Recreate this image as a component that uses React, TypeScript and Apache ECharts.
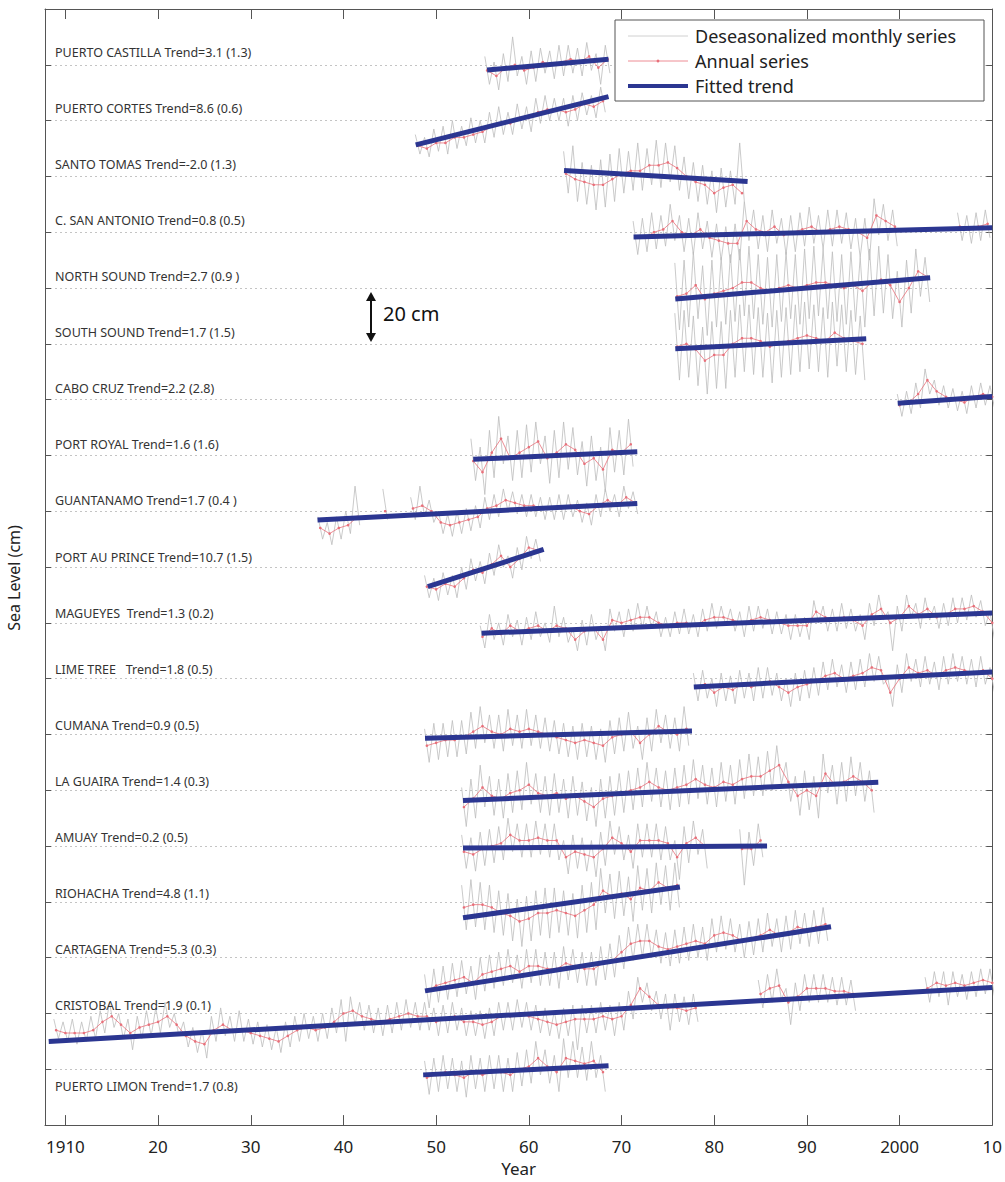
import React, { useEffect, useRef } from "react";
import * as echarts from "echarts";

// ---------------- DATA (cm, relative to each station's baseline) ----------------
const LABELS = [
  "PUERTO CASTILLA Trend=3.1 (1.3)",
  "PUERTO CORTES Trend=8.6 (0.6)",
  "SANTO TOMAS Trend=-2.0 (1.3)",
  "C. SAN ANTONIO Trend=0.8 (0.5)",
  "NORTH SOUND Trend=2.7 (0.9 )",
  "SOUTH SOUND Trend=1.7 (1.5)",
  "CABO CRUZ Trend=2.2 (2.8)",
  "PORT ROYAL Trend=1.6 (1.6)",
  "GUANTANAMO Trend=1.7 (0.4 )",
  "PORT AU PRINCE Trend=10.7 (1.5)",
  "MAGUEYES  Trend=1.3 (0.2)",
  "LIME TREE   Trend=1.8 (0.5)",
  "CUMANA Trend=0.9 (0.5)",
  "LA GUAIRA Trend=1.4 (0.3)",
  "AMUAY Trend=0.2 (0.5)",
  "RIOHACHA Trend=4.8 (1.1)",
  "CARTAGENA Trend=5.3 (0.3)",
  "CRISTOBAL Trend=1.9 (0.1)",
  "PUERTO LIMON Trend=1.7 (0.8)",
];

// first annual-value position (decimal year) for each station
const START = [1955.5, 1948, 1964, 1971.5, 1976, 1976, 2000, 1954, 1937.5, 1949, 1955, 1978, 1949, 1953, 1953, 1953, 1949, 1909, 1949];

// fitted trend endpoints [year0, cm0, year1, cm1]
const TRENDS = [
  [1955.5, -1.9, 1968.6, 2.0],
  [1947.8, -8.7, 1968.6, 8.6],
  [1963.8, 2.1, 1983.6, -1.8],
  [1971.3, -1.7, 2010, 1.6],
  [1975.8, -3.9, 2003.3, 3.7],
  [1975.8, -1.8, 1996.4, 1.8],
  [1999.8, -1.3, 2010, 1.1],
  [1954.0, -1.4, 1971.7, 1.3],
  [1937.2, -3.1, 1971.7, 2.8],
  [1949.1, -7.0, 1961.6, 6.3],
  [1954.9, -3.7, 2010, 3.5],
  [1977.8, -3.0, 2010, 2.4],
  [1948.8, -1.4, 1977.6, 1.2],
  [1952.9, -3.7, 1997.7, 2.9],
  [1952.9, -0.7, 1985.7, 0.0],
  [1952.9, -5.7, 1976.3, 5.3],
  [1948.8, -11.9, 1992.6, 11.1],
  [1908.2, -10.0, 2010, 9.3],
  [1948.6, -2.0, 1968.6, 1.3],
];

// annual series
const annualPuertoCastilla = [-2, -4, -1, 0, -2, -1, 1, 0, 1, 2, 1, 3, -1, 2];
const annualPuertoCortes = [-9, -10, -8, -8, -6, -6, -5, -4, -2, -1, -1, 1, 1, 3, 4, 4, 3, 4, 6, 5, 7];
const annualSantoTomas = [1, -1, -2, -3, -3, -1, 1, 2, 2, 4, 4, 5, 3, 0, -2, -3, -6, -4, -3, -6];
const annualSanAntonio = [-2, -2, 0, 1, 4, 0, -1, 1, -2, -3, -4, -4, 4, 1, 0, 2, -1, 0, 1, 2, 0, 1, 2, 1, 0, -2, 6, 4, 2, null, null, null, null, null, null, 2, 1, 2, 3];
const annualNorthSound = [-3, -2, 1, -4, -2, -1, 0, 2, 2, 0, -1, 0, 1, 0, 1, 2, 2, 1, 0, 1, -1, 2, 3, 1, -5, 0, 6, 4];
const annualSouthSound = [-1, 0, -2, -6, -4, -4, 0, 2, 2, 1, -1, 0, 1, 2, 3, 2, 1, 4, 2, 1, 0];
const annualCaboCruz = [-2, -1, 2, 7, 3, 1, 0, -1, 1, 2, 1];
const annualPortRoyal = [-2, -6, 1, 6, -1, 1, 3, 5, -1, 1, 4, 2, -3, -1, -5, 2, 1, 4];
const annualGuantanamo = [-6, -8, -6, -5, -2, null, null, 0, null, null, 1, 2, 0, -4, -5, -4, -3, -2, 1, 2, 4, 3, 2, 2, 1, 1, 1, 2, 0, -1, 2, 4, 2, 5, 3];
const annualPortAuPrince = [-7, -8, -6, -7, -4, -1, -2, 1, 4, 0, 3, 7, 6];
const annualMagueyes = [-5, -2, -4, -1, -3, -2, -1, -3, -1, -2, -6, -3, -2, -6, 1, 0, 1, 2, 2, 0, -1, 0, 0, -1, 1, 2, 2, 1, 0, 1, 2, 1, 0, -1, -1, -1, 4, 2, 1, 2, 1, -1, 3, 5, 0, 2, 6, 3, 5, 2, 3, 5, 5, 6, 4, 0];
const annualLimeTree = [-3, -2, -5, -3, -4, -2, -3, -2, -1, -3, -5, -3, -2, -1, 1, 2, 0, 1, 2, 4, 3, -5, 0, 4, 2, 3, 1, 3, 4, 3, 2, 3, 0];
const annualCumana = [-4, -3, -2, -2, -1, 1, 3, 1, 0, 2, 1, 2, 1, 0, -1, -2, -3, -2, -3, -4, -1, 0, 1, -3, 0, 3, 1, 0, 2];
const annualLaGuaira = [-6, -3, 1, -2, -3, -1, 0, 2, -1, -2, -1, -3, -2, -4, -6, -3, -2, -1, 0, 1, 3, 1, 0, 1, 2, 4, 2, 1, 3, 2, 4, 5, 5, 7, 9, 3, -2, 0, -2, 6, 2, 3, 5, 3, 0];
const annualAmuay = [-2, -3, -1, 0, 1, 4, 2, 2, 3, 2, 2, -4, -2, -3, -4, -1, 3, 1, -2, 2, 2, 2, 1, -4, 1, 3, 0, null, null, null, -1, -1, 2];
const annualRiohacha = [-2, -1, -1, -2, -4, -5, -7, -6, -4, -4, -3, -4, -5, -3, -1, 4, 2, 3, 1, 5, 4, 7, 5, 6];
const annualCartagena = [-12, -10, -9, -8, -7, -9, -6, -5, -4, -3, -5, -3, -3, -4, -4, -2, -3, -4, -4, -2, -1, 2, 5, 6, 6, 4, 3, 4, 5, 6, 5, 8, 9, 8, 6, 7, 8, 10, 8, 9, 11, 10, 11, 12];
const annualCristobal = [
  -6, -7, -7, -7, -6, -3, -1, -4, -7, -5, -4, -3, -1, -4, -8, -10, -11, -6, -4, -6,
  -6, -7, -8, -9, -10, -8, -6, -5, -6, -5, -3, 0, 1, -1, -2, -3, -2, -1, 0, -1,
  -1, -3, -2, -1, -3, -3, -4, -3, -1, -1, 0, -1, -2, -3, -4, -3, -2, -2, -2, -1,
  -2, -1, 3, 9, 6, 3, 2, 2, 1, 2, null, null, null, null, null, null,
  7, 9, 10, 4, 6, 9, 9, 9, 8, 8, 7, null, null, null, null, null, null, null,
  9, 11, 10, 11, 10, 11, 12, 11,
];
const annualPuertoLimon = [-3, -2, -1, -2, -3, -1, -2, -1, -1, -2, 0, 1, 4, 1, -1, 4, 3, 2, 3, -1];

// deseasonalized monthly series: (high, low) excursions per year
const grayPuertoCastilla = [3, -7, 1, -9, 4, -6, 10, -4, 3, -7, 5, -6, 6, -3, 5, -5, 7, -4, 7, -3, 6, -4, 8, -2, 4, -7, 7, -3];
const grayPuertoCortes = [-5, -12, -6, -13, -3, -11, -2, -12, 0, -10, -2, -9, 1, -8, 0, -8, 3, -6, 5, -5, 3, -5, 6, -3, 5, -4, 8, -1, 9, 0, 8, 0, 8, -2, 9, 0, 10, 2, 9, 1, 12, 3];
const graySantoTomas = [9, -6, 11, -9, 5, -10, 4, -12, 6, -11, 8, -9, 10, -6, 9, -5, 12, -5, 10, -3, 13, -4, 12, -2, 11, -5, 7, -8, 5, -9, 4, -10, 2, -13, 3, -11, 2, -10, 12, -9];
const graySanAntonio = [4, -8, 5, -7, 7, -6, 6, -5, 10, -3, 6, -7, 5, -8, 7, -6, 4, -9, 3, -10, 2, -11, 3, -10, 11, -3, 8, -6, 6, -7, 8, -4, 5, -8, 6, -7, 7, -5, 9, -4, 6, -6, 8, -5, 8, -4, 7, -6, 5, -9, 5, -10, 12, -1, 10, -3, 8, -5, null, null, null, null, null, null, null, null, null, null, null, null, 7, -3, 6, -4, 7, -3, 8, -2];
const grayNorthSound = [9, -15, 10, -14, 13, -11, 8, -17, 10, -14, 11, -13, 12, -12, 14, -10, 15, -11, 12, -13, 11, -14, 12, -12, 13, -11, 12, -13, 14, -11, 15, -10, 14, -11, 13, -12, 12, -13, 13, -12, 11, -14, 14, -10, 15, -9, 12, -11, 6, -14, 10, -9, 14, -3, 11, -5];
const graySouthSound = [11, -13, 12, -12, 10, -15, 6, -18, 8, -16, 8, -16, 12, -12, 14, -10, 14, -11, 13, -12, 11, -14, 12, -12, 13, -11, 14, -10, 15, -9, 14, -10, 13, -12, 15, -8, 14, -10, 12, -11, 10, -13];
const grayCaboCruz = [2, -6, 3, -5, 6, -3, 11, 2, 7, -2, 5, -3, 4, -4, 3, -5, 5, -3, 6, -2, 5, -3];
const grayPortRoyal = [6, -9, 3, -14, 9, -8, 14, -3, 7, -9, 9, -8, 11, -6, 12, -3, 7, -10, 9, -8, 12, -5, 10, -7, 5, -11, 7, -9, 3, -13, 10, -6, 9, -7, 13, -4];
const grayGuantanamo = [-2, -10, -4, -12, -2, -10, 0, -8, 9, -5, null, null, null, null, 8, -3, null, null, null, null, 5, -3, 9, -2, 4, -4, 0, -8, -1, -9, 0, -8, 1, -7, 2, -6, 5, -3, 6, -2, 8, 0, 7, -1, 6, -2, 6, -2, 5, -3, 5, -3, 6, -3, 6, -2, 4, -4, 3, -5, 6, -2, 8, 0, 6, -2, 9, 1, 7, -1];
const grayPortAuPrince = [-3, -11, -4, -12, -2, -10, -3, -11, 0, -8, 3, -5, 2, -6, 5, -3, 8, 0, 4, -4, 7, -1, 11, 3, 10, 2];
const grayMagueyes = [-1, -9, 3, -6, 0, -8, 3, -5, 1, -8, 2, -6, 4, -5, 0, -7, 6, -5, 2, -7, -2, -10, 1, -8, 3, -6, -1, -10, 5, -3, 4, -5, 5, -3, 7, -2, 6, -2, 4, -5, 2, -5, 4, -4, 5, -4, 3, -5, 5, -3, 7, -2, 6, -1, 5, -3, 4, -5, 6, -3, 6, -2, 5, -4, 4, -4, 3, -6, 3, -5, 2, -6, 8, 0, 6, -3, 5, -3, 7, -2, 5, -3, 3, -6, 7, -1, 10, 1, 4, -10, 6, -3, 10, 2, 7, -2, 9, 1, 6, -2, 7, -1, 9, 0, 9, 1, 10, 2, 8, -1, 4, -6];
const grayLimeTree = [2, -8, 3, -7, 0, -10, 2, -8, 1, -9, 3, -7, 2, -8, 4, -7, 4, -6, 2, -8, 0, -10, 2, -8, 3, -7, 4, -6, 6, -4, 7, -3, 5, -5, 6, -4, 7, -3, 9, -1, 8, -2, 0, -10, 5, -5, 9, -1, 7, -3, 8, -2, 6, -4, 8, -2, 9, -1, 8, -2, 7, -3, 8, -2, 4, -5];
const grayCumana = [2, -10, 4, -9, 4, -8, 5, -8, 5, -7, 8, -5, 10, -3, 7, -5, 7, -6, 9, -4, 7, -5, 9, -4, 7, -5, 6, -6, 5, -7, 4, -8, 3, -9, 4, -8, 3, -9, 2, -10, 5, -7, 6, -6, 8, -5, 3, -9, 6, -6, 9, -3, 7, -5, 6, -6, 10, -4];
const grayLaGuaira = [1, -13, 4, -10, 9, -6, 5, -9, 4, -10, 6, -8, 7, -7, 10, -5, 6, -8, 5, -9, 6, -8, 4, -10, 5, -9, 3, -11, 1, -13, 4, -10, 5, -9, 6, -8, 7, -7, 8, -6, 10, -4, 8, -6, 7, -7, 8, -6, 9, -5, 11, -3, 9, -5, 8, -6, 10, -4, 9, -5, 11, -3, 13, -2, 12, -2, 14, 0, 16, 2, 10, -4, 5, -9, 7, -7, 5, -10, 13, -1, 9, -5, 10, -4, 12, -2, 10, -4, 7, -8];
const grayAmuay = [4, -8, 3, -9, 5, -7, 6, -6, 7, -5, 10, -2, 8, -4, 8, -4, 9, -3, 8, -4, 8, -5, 2, -10, 4, -8, 3, -9, 2, -11, 5, -7, 9, -3, 7, -5, 4, -8, 8, -4, 8, -4, 8, -5, 7, -5, 2, -12, 7, -6, 9, -3, 6, -8, null, null, null, null, null, null, 6, -14, 5, -7, 8, -4];
const grayRiohacha = [6, -10, 8, -9, 7, -10, 6, -11, 4, -12, 3, -14, 1, -16, 2, -14, 4, -12, 5, -13, 5, -11, 4, -12, 3, -13, 6, -11, 7, -10, 12, -4, 10, -6, 11, -5, 9, -7, 13, -3, 12, -4, 14, -1, 13, -3, 14, -2];
const grayCartagena = [-6, -18, -4, -16, -3, -15, -2, -14, -1, -13, -3, -15, 0, -12, 1, -11, 2, -10, 3, -9, 1, -11, 3, -9, 3, -10, 2, -10, 2, -11, 4, -8, 3, -9, 2, -10, 2, -10, 4, -8, 5, -7, 8, -4, 11, -1, 12, 0, 12, 0, 10, -2, 9, -3, 10, -2, 11, -1, 12, 0, 11, -1, 14, 2, 15, 3, 14, 2, 12, 0, 13, 1, 14, 2, 16, 4, 14, 2, 15, 3, 17, 5, 16, 4, 17, 5, 18, 6];
const grayCristobal = [
  -2, -9, -3, -10, -2, -11, -3, -10, -1, -9, 1, -7, 4, -5, 0, -9, -2, -13, -1, -9,
  1, -8, 2, -7, 4, -5, 0, -8, -3, -12, -5, -14, -6, -16, -1, -10, 2, -8, -1, -10,
  1, -10, -2, -11, -3, -12, -4, -13, -5, -14, -3, -12, -1, -10, 0, -9, -1, -10, 0, -9,
  2, -7, 5, -10, 6, -4, 4, -6, 3, -7, 2, -8, 3, -7, 4, -6, 5, -5, 4, -6,
  4, -6, 2, -8, 3, -7, 4, -6, 2, -8, 1, -8, 1, -9, 2, -8, 4, -6, 4, -6,
  5, -5, 4, -6, 3, -7, 2, -8, 1, -9, 2, -8, 3, -13, 3, -7, 3, -7, 4, -6,
  3, -8, 4, -6, 8, -2, 13, 4, 11, 1, 8, -2, 7, -6, 7, -3, 6, -4, 7, -3,
  null, null, null, null, null, null, null, null, null, null, null, null,
  12, 2, 14, 4, 16, 5, 9, -4, 11, 1, 14, 4, 14, 4, 14, 4, 13, 3, 13, 3, 12, 1,
  null, null, null, null, null, null, null, null, null, null, null, null, null, null,
  13, 4, 15, 6, 15, 3, 15, 6, 14, 5, 15, 6, 16, 7, 16, 6,
];
const grayPuertoLimon = [3, -9, 4, -8, 5, -7, 4, -8, 3, -10, 5, -7, 4, -8, 5, -7, 5, -8, 4, -8, 6, -6, 7, -5, 10, -2, 7, -5, 5, -8, 11, -3, 10, -3, 8, -4, 10, -3, 5, -8];

const ANNUAL = [
  annualPuertoCastilla, annualPuertoCortes, annualSantoTomas, annualSanAntonio, annualNorthSound,
  annualSouthSound, annualCaboCruz, annualPortRoyal, annualGuantanamo, annualPortAuPrince,
  annualMagueyes, annualLimeTree, annualCumana, annualLaGuaira, annualAmuay,
  annualRiohacha, annualCartagena, annualCristobal, annualPuertoLimon,
];
const GRAY = [
  grayPuertoCastilla, grayPuertoCortes, graySantoTomas, graySanAntonio, grayNorthSound,
  graySouthSound, grayCaboCruz, grayPortRoyal, grayGuantanamo, grayPortAuPrince,
  grayMagueyes, grayLimeTree, grayCumana, grayLaGuaira, grayAmuay,
  grayRiohacha, grayCartagena, grayCristobal, grayPuertoLimon,
];

const TICK_YEARS = [1910, 1920, 1930, 1940, 1950, 1960, 1970, 1980, 1990, 2000, 2010];
const TICK_LABELS = ["1910", "20", "30", "40", "50", "60", "70", "80", "90", "2000", "10"];
const STATION_SPACING = 20; // cm offset between stations

// ---------------- LAYOUT ----------------
const W = 1005;
const H = 1182;
const G_LEFT = 45;
const G_RIGHT = 11;
const G_TOP = 9;
const G_BOTTOM = 51;
const Y_MIN = -20;
const Y_MAX = 380;
const X_MIN = 1907.8;
const X_MAX = 2010;
const FONT = "'Noto Sans', 'Open Sans', sans-serif";

const C_GRAY = "#bcbcbc";
const C_RED = "#e8707a";
const C_BLUE = "#2b3691";
const C_AXIS = "#555";

function buildOption() {
  const N = LABELS.length;
  const series: any[] = [];
  const plotH = H - G_TOP - G_BOTTOM;
  const yPix = (v: number) => G_TOP + ((Y_MAX - v) / (Y_MAX - Y_MIN)) * plotH;
  const graphics: any[] = [];

  LABELS.forEach((lab, i) => {
    const off = (N - 1 - i) * STATION_SPACING;
    const ann = ANNUAL[i];
    const gr = GRAY[i];
    const st = START[i];
    const gData: any[] = [];
    const aData: any[] = [];
    ann.forEach((v, j) => {
      const t = st + j;
      if (v === null || v === undefined) {
        aData.push([t, "-"]);
        gData.push([t - 0.25, "-"], [t + 0.25, "-"]);
        return;
      }
      aData.push([t, off + v]);
      const hi = gr[2 * j];
      const lo = gr[2 * j + 1];
      gData.push([t - 0.25, hi == null ? "-" : off + hi], [t + 0.25, lo == null ? "-" : off + lo]);
    });
    const tr = TRENDS[i];
    series.push({
      type: "line",
      name: "Deseasonalized monthly series",
      data: gData,
      symbol: "none",
      lineStyle: { color: C_GRAY, width: 0.8 },
      connectNulls: false,
      z: 2,
      silent: true,
    });
    series.push({
      type: "line",
      name: "Annual series",
      data: aData,
      symbol: "circle",
      symbolSize: 2.6,
      showSymbol: true,
      itemStyle: { color: C_RED },
      lineStyle: { color: C_RED, width: 0.8 },
      connectNulls: false,
      z: 3,
      silent: true,
    });
    series.push({
      type: "line",
      name: "Fitted trend",
      data: [
        [tr[0], off + tr[1]],
        [tr[2], off + tr[3]],
      ],
      symbol: "none",
      lineStyle: { color: C_BLUE, width: 5 },
      z: 4,
      silent: true,
    });

    const ty = yPix(off);
    const below = i === N - 1;
    graphics.push({
      type: "text",
      x: 55,
      y: below ? ty + 12 : ty - 13,
      z: 50,
      style: {
        text: lab,
        font: `12.5px ${FONT}`,
        fill: "#333",
        textAlign: "left",
        textVerticalAlign: "middle",
      },
    });
  });

  // y axis name
  graphics.push({
    type: "text",
    x: 14,
    y: 578,
    rotation: Math.PI / 2,
    z: 50,
    style: {
      text: "Sea Level (cm)",
      font: `16px ${FONT}`,
      fill: "#222",
      textAlign: "center",
      textVerticalAlign: "middle",
    },
  });

  // 20 cm scale arrow
  graphics.push(
    { type: "line", z: 50, shape: { x1: 371, y1: 298, x2: 371, y2: 336 }, style: { stroke: "#111", lineWidth: 2 } },
    { type: "polygon", z: 50, shape: { points: [[371, 292], [366, 301], [376, 301]] }, style: { fill: "#111" } },
    { type: "polygon", z: 50, shape: { points: [[371, 342], [366, 333], [376, 333]] }, style: { fill: "#111" } },
    {
      type: "text",
      x: 383,
      y: 313,
      z: 50,
      style: { text: "20 cm", font: `20px ${FONT}`, fill: "#111", textAlign: "left", textVerticalAlign: "middle" },
    }
  );

  // legend box
  const lx = 615;
  const ly = 20;
  graphics.push(
    { type: "rect", z: 60, shape: { x: lx, y: ly, width: 369, height: 81 }, style: { fill: "#fff", stroke: "#555", lineWidth: 1 } },
    { type: "line", z: 61, shape: { x1: 628, y1: 36, x2: 688, y2: 36 }, style: { stroke: "#c4c4c4", lineWidth: 0.8 } },
    { type: "line", z: 61, shape: { x1: 628, y1: 61, x2: 688, y2: 61 }, style: { stroke: C_RED, lineWidth: 0.8 } },
    { type: "circle", z: 61, shape: { cx: 658, cy: 61, r: 1.4 }, style: { fill: C_RED } },
    { type: "line", z: 61, shape: { x1: 628, y1: 86, x2: 688, y2: 86 }, style: { stroke: C_BLUE, lineWidth: 4 } },
    { type: "text", z: 61, x: 695, y: 36, style: { text: "Deseasonalized monthly series", font: `18px ${FONT}`, fill: "#222", textVerticalAlign: "middle" } },
    { type: "text", z: 61, x: 695, y: 61, style: { text: "Annual series", font: `18px ${FONT}`, fill: "#222", textVerticalAlign: "middle" } },
    { type: "text", z: 61, x: 695, y: 86, style: { text: "Fitted trend", font: `18px ${FONT}`, fill: "#222", textVerticalAlign: "middle" } }
  );

  const labelFor = (v: number) => {
    const k = TICK_YEARS.indexOf(Math.round(v));
    return k >= 0 ? TICK_LABELS[k] : "";
  };

  return {
    animation: false,
    backgroundColor: "#fff",
    textStyle: { fontFamily: FONT },
    grid: { left: G_LEFT, right: G_RIGHT, top: G_TOP, bottom: G_BOTTOM, containLabel: false },
    xAxis: [
      {
        type: "value",
        min: X_MIN,
        max: X_MAX,
        position: "bottom",
        axisLine: { show: true, onZero: false, lineStyle: { color: C_AXIS, width: 1 } },
        axisTick: { show: true, inside: true, length: 10, customValues: TICK_YEARS, lineStyle: { color: C_AXIS } },
        axisLabel: {
          show: true,
          customValues: TICK_YEARS,
          formatter: labelFor,
          fontSize: 17,
          color: "#222",
          margin: 13,
          fontFamily: FONT,
          showMinLabel: true,
          showMaxLabel: true,
        },
        splitLine: { show: false },
        name: "Year",
        nameLocation: "middle",
        nameGap: 34,
        nameTextStyle: { fontSize: 17, color: "#222", fontFamily: FONT },
      },
      {
        type: "value",
        min: X_MIN,
        max: X_MAX,
        position: "top",
        axisLine: { show: true, onZero: false, lineStyle: { color: C_AXIS, width: 1 } },
        axisTick: { show: true, inside: true, length: 10, customValues: TICK_YEARS, lineStyle: { color: C_AXIS } },
        axisLabel: { show: false },
        splitLine: { show: false },
      },
    ],
    yAxis: [
      {
        type: "value",
        min: Y_MIN,
        max: Y_MAX,
        interval: STATION_SPACING,
        position: "left",
        axisLine: { show: true, onZero: false, lineStyle: { color: C_AXIS, width: 1 } },
        axisTick: { show: true, inside: true, length: 6, lineStyle: { color: C_AXIS } },
        axisLabel: { show: false },
        splitLine: { show: true, lineStyle: { type: [2, 3], color: "#c4c4c4", width: 1 } },
      },
      {
        type: "value",
        min: Y_MIN,
        max: Y_MAX,
        interval: STATION_SPACING,
        position: "right",
        axisLine: { show: true, onZero: false, lineStyle: { color: C_AXIS, width: 1 } },
        axisTick: { show: true, inside: true, length: 6, lineStyle: { color: C_AXIS } },
        axisLabel: { show: false },
        splitLine: { show: false },
      },
    ],
    series,
    graphic: { elements: graphics },
  };
}

export default function App() {
  const ref = useRef<HTMLDivElement>(null);
  useEffect(() => {
    if (!ref.current) return;
    const chart = echarts.init(ref.current, undefined, { renderer: "svg", width: W, height: H });
    chart.setOption(buildOption() as any);
    return () => {
      chart.dispose();
    };
  }, []);
  return (
    <div
      ref={ref}
      style={{ position: "absolute", left: 0, top: 0, width: W, height: H, background: "#fff" }}
    />
  );
}
